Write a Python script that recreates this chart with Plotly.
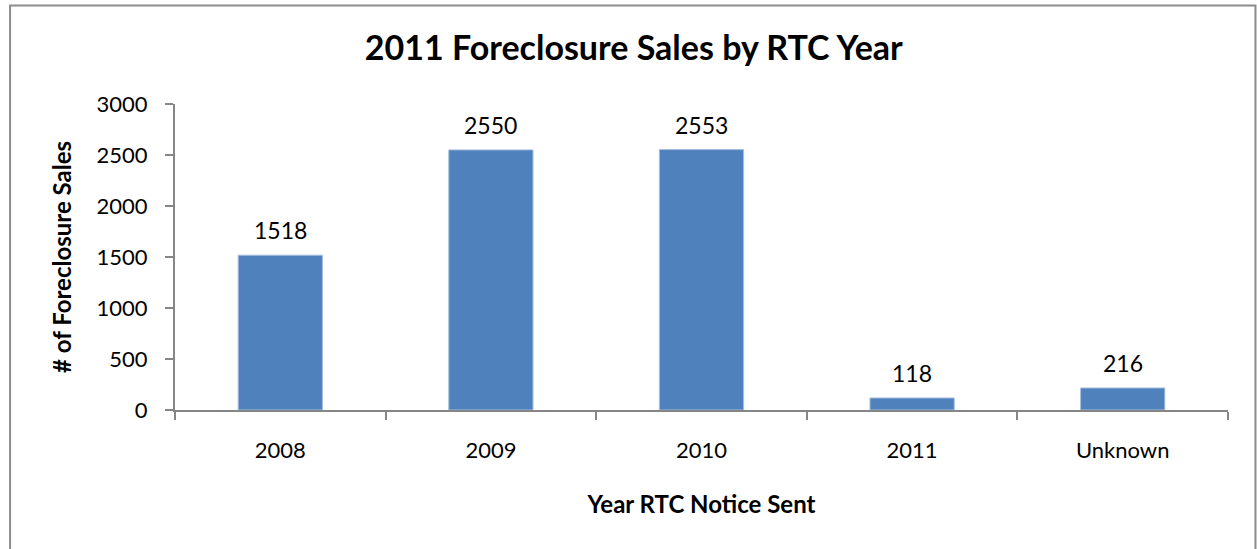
import plotly.graph_objects as go

categories = ["2008", "2009", "2010", "2011", "Unknown"]
sales = [1518, 2550, 2553, 118, 216]
y_ticks = [0, 500, 1000, 1500, 2000, 2500, 3000]

FONT = "Lato"
W, H = 1257, 549
L, R, T, B = 175, 28.5, 104, 139
pw, ph = W - L - R, H - T - B

def px_x(p):
    return (p - L) / pw

def px_y(p):
    return (H - B - p) / ph

fig = go.Figure()
fig.add_trace(go.Bar(
    x=categories, y=sales, width=0.4,
    marker=dict(color="#4F81BD", line=dict(color="#A7BEDC", width=1)),
    hoverinfo="x+y",
))

for i, v in enumerate(sales):
    fig.add_annotation(x=i, y=v, text=str(v), showarrow=False, yshift=25,
                       yanchor="middle", font=dict(family=FONT, size=23, color="#000"))

fig.add_shape(type="rect", xref="paper", yref="paper",
              x0=px_x(10), x1=px_x(1256), y0=px_y(560), y1=px_y(5.5),
              line=dict(color="#8c8c8c", width=2), fillcolor="rgba(0,0,0,0)", layer="below")

fig.update_layout(
    width=W, height=H,
    margin=dict(l=L, r=R, t=T, b=B, pad=0),
    paper_bgcolor="white", plot_bgcolor="white",
    showlegend=False,
    title=dict(text="<b>2011 Foreclosure Sales by RTC Year</b>", x=px_x(634), xref="paper",
               y=1 - 48 / H, yanchor="middle", xanchor="center",
               font=dict(family=FONT, size=34, color="#000")),
    xaxis=dict(
        type="category", categoryarray=categories, categoryorder="array",
        range=[-0.5, len(categories) - 0.5], autorange=False,
        showline=True, linecolor="#868686", linewidth=2,
        ticks="outside", ticklen=8, tickcolor="#868686", tickwidth=2,
        tickson="boundaries", showgrid=False, tickangle=0, ticklabelstandoff=20,
        tickfont=dict(family=FONT, size=22, color="#000"),
        title=dict(text="<b>Year RTC Notice Sent</b>", standoff=34,
                   font=dict(family=FONT, size=24, color="#000")),
    ),
    yaxis=dict(
        range=[0, 3000], autorange=False, tickvals=y_ticks, showline=True,
        linecolor="#868686", linewidth=2,
        ticks="outside", ticklen=8, tickcolor="#868686", tickwidth=2,
        showgrid=False, zeroline=False, ticklabelstandoff=13,
        tickfont=dict(family=FONT, size=22, color="#000"),
        title=dict(text="<b># of Foreclosure Sales</b>", standoff=18,
                   font=dict(family=FONT, size=24, color="#000")),
    ),
)

fig.write_html("out.html")
